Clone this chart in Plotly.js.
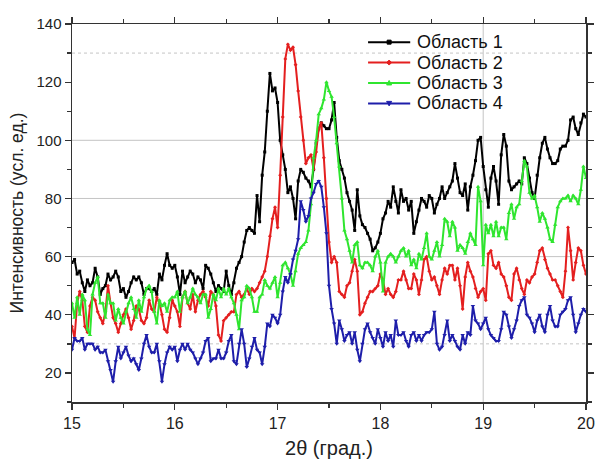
<!DOCTYPE html>
<html>
<head>
<meta charset="utf-8">
<script src="https://cdn.plot.ly/plotly-3.0.1.min.js"></script>
<style>
  html, body { margin: 0; padding: 0; background: #fff; }
  #chart { width: 598px; height: 464px; }
</style>
</head>
<body>
<div id="chart"></div>
<script>
// Scan grid: 2θ from 15° to 20° in 0.025° steps
const thetaStart = 15;
const thetaStep = 0.025;

const seriesNames = ["Область 1", "Область 2", "Область 3", "Область 4"];

// Intensity, arbitrary units, one value per scan step
const region1 = [
  58, 59, 54, 55,  51, 48, 52, 50,  51, 56, 53, 47,  49, 50, 54, 52,  53, 55, 53, 48,
  49, 46, 48, 51,  53, 52, 53, 51,  47, 49, 49, 48,  49, 47, 54, 52,  57, 61, 57, 56,
  57, 53, 47, 55,  51, 53, 55, 54,  51, 53, 52, 49,  57, 56, 54, 51,  48, 50, 49, 48,
  55, 50, 47, 51,  56, 58, 60, 65,  69, 70, 69, 68,  81, 72, 88, 96,  110, 123, 117, 118,
  113, 100, 95, 90,  82, 84, 80, 73,  86, 90, 89, 87,  86, 84, 90, 99,  104, 106, 105, 104,
  104, 107, 113, 101,  93, 90, 87, 82,  79, 76, 69, 83,  74, 71, 70, 68,  66, 62, 63, 65,
  68, 73, 75, 79,  77, 84, 79, 75,  83, 79, 80, 76,  79, 68, 72, 76,  80, 79, 77, 81,
  80, 75, 78, 80,  84, 80, 82, 84,  86, 92, 87, 82,  81, 85, 76, 84,  88, 93, 100, 101,
  91, 83, 77, 87,  91, 86, 78, 95,  102, 98, 86, 83,  84, 85, 86, 85,  94, 92, 87, 82,
  80, 88, 94, 99,  101, 97, 94, 92,  92, 93, 97, 98,  98, 100, 107, 108,  104, 102, 106, 109,
  108
];
const region2 = [
  36, 32, 44, 48,  45, 36, 34, 43,  46, 45, 41, 39,  37, 41, 50, 44,  39, 37, 34, 37,
  40, 42, 39, 35,  38, 43, 42, 38,  37, 39, 45, 42,  41, 46, 44, 40,  35, 34, 39, 45,
  43, 41, 36, 46,  48, 44, 42, 47,  41, 45, 47, 48,  46, 43, 48, 47,  43, 33, 31, 38,
  39, 40, 41, 41,  47, 48, 46, 47,  49, 47, 49, 48,  49, 51, 53, 55,  60, 67, 73, 77,
  70, 88, 108, 128,  133, 131, 132, 126,  117, 108, 100, 92,  94, 95, 90, 96,  104, 106, 94, 80,
  65, 58, 60, 58,  48, 47, 46, 50,  51, 55, 59, 55,  40, 41, 44, 46,  48, 48, 49, 50,
  54, 52, 47, 49,  47, 46, 48, 52,  52, 55, 52, 49,  49, 54, 52, 47,  52, 59, 60, 55,
  52, 53, 50, 47,  52, 56, 54, 57,  57, 52, 56, 50,  42, 53, 58, 55,  53, 49, 46, 48,
  49, 45, 61, 62,  57, 56, 58, 54,  53, 50, 46, 45,  54, 56, 52, 49,  47, 52, 51, 53,
  54, 58, 62, 63,  59, 56, 54, 52,  52, 50, 48, 46,  55, 70, 62, 52,  58, 63, 62, 57,
  54
];
const region3 = [
  44, 39, 46, 40,  47, 45, 35, 33,  47, 51, 53, 44,  44, 39, 47, 44,  44, 38, 42, 39,
  37, 41, 44, 46,  42, 39, 45, 41,  46, 49, 50, 48,  41, 37, 45, 43,  44, 41, 45, 46,
  46, 48, 41, 46,  48, 44, 46, 49,  47, 46, 44, 47,  47, 39, 42, 47,  45, 49, 46, 49,
  47, 49, 46, 44,  40, 35, 45, 46,  50, 49, 46, 41,  41, 46, 47, 52,  50, 49, 51, 53,
  46, 51, 57, 58,  56, 54, 50, 55,  61, 63, 64, 65,  69, 78, 94, 100,  109, 111, 114, 120,
  117, 115, 108, 99,  91, 80, 69, 66,  62, 58, 64, 65,  57, 56, 58, 58,  57, 55, 60, 62,
  58, 48, 58, 60,  61, 60, 58, 60,  62, 63, 60, 62,  57, 59, 56, 61,  59, 63, 68, 60,
  59, 62, 65, 60,  64, 73, 72, 67,  72, 70, 62, 64,  63, 61, 65, 68,  66, 64, 84, 79,
  57, 71, 68, 71,  67, 72, 67, 70,  70, 66, 75, 78,  73, 77, 78, 86,  93, 91, 82, 80,
  81, 77, 72, 75,  73, 70, 66, 65,  71, 77, 79, 80,  80, 81, 79, 81,  80, 78, 83, 91,
  87
];
const region4 = [
  28, 32, 31, 31,  32, 28, 30, 30,  30, 28, 29, 27,  27, 28, 24, 21,  17, 24, 29, 25,
  27, 29, 26, 24,  25, 23, 21, 25,  30, 33, 29, 27,  27, 30, 24, 17,  23, 27, 29, 28,
  29, 24, 28, 30,  28, 30, 28, 27,  25, 23, 25, 27,  31, 32, 24, 25,  25, 28, 25, 25,
  27, 31, 33, 24,  23, 30, 35, 30,  22, 25, 29, 32,  28, 27, 23, 29,  37, 36, 40, 39,
  37, 40, 48, 53,  51, 54, 59, 62,  66, 79, 76, 72,  74, 80, 82, 85,  86, 84, 77, 68,
  50, 42, 37, 30,  38, 35, 31, 33,  34, 30, 34, 28,  24, 30, 35, 37,  34, 32, 30, 35,
  32, 29, 34, 31,  33, 29, 38, 33,  33, 34, 31, 29,  33, 34, 31, 33,  31, 33, 34, 34,
  35, 41, 30, 28,  29, 33, 38, 31,  33, 31, 29, 28,  33, 30, 34, 33,  43, 38, 37, 35,
  37, 39, 35, 33,  32, 31, 31, 35,  41, 40, 36, 32,  35, 38, 43, 45,  46, 40, 39, 37,
  34, 38, 40, 36,  34, 40, 43, 38,  36, 36, 40, 41,  42, 45, 46, 40,  34, 37, 40, 42,
  41
];

const xTickVals = [15, 16, 17, 18, 19, 20];
const yTickVals = [20, 40, 60, 80, 100, 120, 140];

const theta = region1.map((_, i) => +(thetaStart + i * thetaStep).toFixed(3));

const styles = [
  { color: "#000000", symbol: "square", size: 3, glyph: "M-2,-2 L2,-2 L2,2 L-2,2 Z" },
  { color: "#e41f1f", symbol: "diamond", size: 3, glyph: "M0,-2.5 L2.5,0 L0,2.5 L-2.5,0 Z" },
  { color: "#2fe52f", symbol: "triangle-up", size: 4, glyph: "M-2.5,-2 L2.5,-2 L0,2.5 Z" },
  { color: "#1e1eaa", symbol: "triangle-down", size: 4, glyph: "M-2.5,2 L2.5,2 L0,-2.5 Z" }
];

const traces = [region1, region2, region3, region4].map((ys, k) => ({
  x: theta,
  y: ys,
  name: seriesNames[k],
  type: "scatter",
  mode: "lines+markers",
  line: { color: styles[k].color, width: 2 },
  marker: { color: styles[k].color, symbol: styles[k].symbol, size: styles[k].size },
  showlegend: false
}));

const font = "Liberation Sans, Arial, sans-serif";
const gridSolid = { color: "#c4c4c4", width: 1 };
const gridDot = { color: "#c4c4c4", width: 1, dash: "dot" };

function hLine(v, line) {
  return { type: "line", xref: "paper", yref: "y", x0: 0, x1: 1, y0: v, y1: v, line, layer: "below" };
}

// Compact legend block in the upper right of the plot area
const legendRows = [0.952, 0.898, 0.844, 0.790];
const legendLine = [0.576, 0.658];
const legendText = 0.668;
const legendShapes = [];
const legendLabels = [];
seriesNames.forEach((name, k) => {
  const yy = legendRows[k];
  legendShapes.push({
    type: "line", xref: "paper", yref: "paper",
    x0: legendLine[0], x1: legendLine[1], y0: yy, y1: yy,
    line: { color: styles[k].color, width: 2 }
  });
  legendShapes.push({
    type: "path", xref: "paper", yref: "paper",
    xsizemode: "pixel", ysizemode: "pixel",
    xanchor: (legendLine[0] + legendLine[1]) / 2, yanchor: yy,
    path: styles[k].glyph,
    fillcolor: styles[k].color, line: { color: styles[k].color, width: 1 }
  });
  legendLabels.push({
    xref: "paper", yref: "paper", x: legendText, y: yy,
    xanchor: "left", yanchor: "middle", showarrow: false,
    text: name, font: { family: font, size: 18, color: "#111" }
  });
});

const layout = {
  width: 598,
  height: 464,
  margin: { l: 72, r: 12, t: 24, b: 62 },
  paper_bgcolor: "#ffffff",
  plot_bgcolor: "#ffffff",
  showlegend: false,
  xaxis: {
    range: [15, 20],
    tickvals: xTickVals,
    ticks: "outside", ticklen: 6, tickwidth: 1.3, tickcolor: "#333",
    minor: { dtick: 0.5, ticks: "outside", ticklen: 4, tickcolor: "#333", showgrid: false },
    showline: true, linecolor: "#333", linewidth: 1.5, mirror: "ticks",
    showgrid: false, zeroline: false,
    tickfont: { family: font, size: 16, color: "#222" },
    title: { text: "2θ (град.)", font: { family: font, size: 20, color: "#222" }, standoff: 10 }
  },
  yaxis: {
    range: [10, 140],
    tickvals: yTickVals,
    ticks: "outside", ticklen: 6, tickwidth: 1.3, tickcolor: "#333",
    minor: { dtick: 10, tick0: 10, ticks: "outside", ticklen: 4, tickcolor: "#333", showgrid: false },
    showline: true, linecolor: "#333", linewidth: 1.5, mirror: "ticks",
    showgrid: false, zeroline: false,
    tickfont: { family: font, size: 15, color: "#222" },
    title: { text: "Интенсивность (усл. ед.)", font: { family: font, size: 17.5, color: "#222" }, standoff: 8 }
  },
  shapes: [
    hLine(60, gridSolid), hLine(80, gridSolid), hLine(100, gridSolid),
    hLine(30, gridDot), hLine(130, gridDot),
    { type: "line", xref: "x", yref: "paper", x0: 19, x1: 19, y0: 0, y1: 1, line: gridSolid, layer: "below" }
  ].concat(legendShapes),
  annotations: legendLabels
};

Plotly.newPlot("chart", traces, layout, { displayModeBar: false, staticPlot: true });
</script>
</body>
</html>
